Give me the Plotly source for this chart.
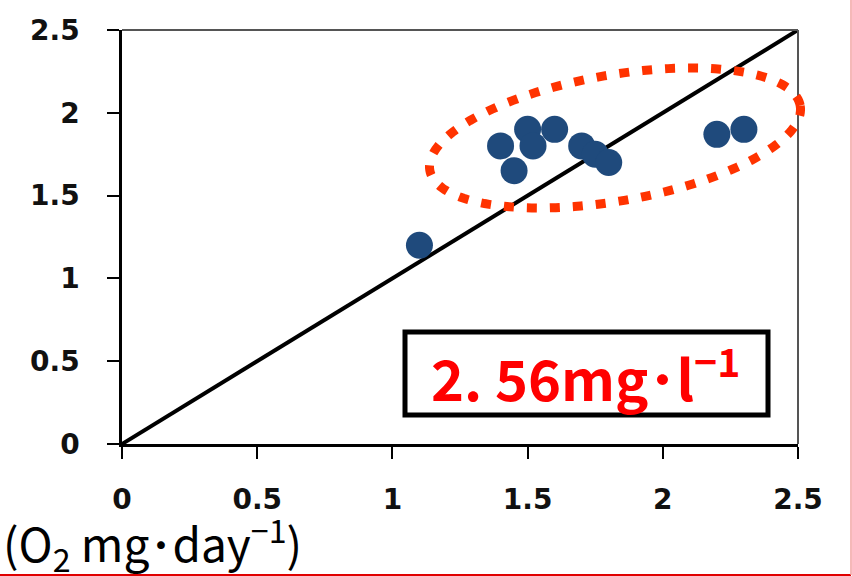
import numpy as np
import plotly.graph_objects as go

# Measured vs. estimated oxygen production (O2 mg/day)
x_vals = [1.10, 1.40, 1.45, 1.50, 1.52, 1.60, 1.70, 1.75, 1.80, 2.20, 2.30]
y_vals = [1.20, 1.80, 1.65, 1.90, 1.80, 1.90, 1.80, 1.75, 1.70, 1.87, 1.90]

# 1:1 reference line
ref_x = [0, 2.5]
ref_y = [0, 2.5]

tick_vals = [0, 0.5, 1, 1.5, 2, 2.5]
tick_text = ["0", "0.5", "1", "1.5", "2", "2.5"]

W, H = 852, 576
L, R, T, B = 122, 54, 30, 132
PW, PH = W - L - R, H - T - B


def to_paper(px, py):
    """pixel position -> paper coordinates"""
    return (px - L) / PW, (H - B - py) / PH


fig = go.Figure()

fig.add_trace(go.Scatter(
    x=ref_x, y=ref_y, mode="lines",
    line=dict(color="black", width=4),
    hoverinfo="skip", showlegend=False,
))

fig.add_trace(go.Scatter(
    x=x_vals, y=y_vals, mode="markers",
    marker=dict(size=27, color="#1F4A7C", line=dict(width=0)),
    showlegend=False,
))

axis_common = dict(
    range=[0, 2.5],
    tickvals=tick_vals,
    ticktext=tick_text,
    showgrid=False,
    zeroline=False,
    showline=True,
    linecolor="black",
    linewidth=2.5,
    ticks="outside",
    ticklen=12,
    tickwidth=2,
    tickcolor="black",
    automargin=False,
    tickfont=dict(family="DejaVu Sans", size=28, color="#111111", weight="bold"),
)

fig.update_xaxes(**axis_common, ticklabelstandoff=17)
fig.update_yaxes(**axis_common, ticklabelstandoff=22)

shapes = []

# gray top / right frame of the plot area
shapes.append(dict(type="line", xref="paper", yref="paper", x0=0, x1=1, y0=1, y1=1,
                   line=dict(color="#555555", width=2)))
shapes.append(dict(type="line", xref="paper", yref="paper", x0=1, x1=1, y0=0, y1=1,
                   line=dict(color="#555555", width=2)))

# dotted tilted ellipse around the cluster
cx, cy, a, b, th = 615, 138, 188, 63, np.deg2rad(-9.9)
t = np.linspace(0, 2 * np.pi, 181)
ex = cx + a * np.cos(th) * np.cos(t) - b * np.sin(th) * np.sin(t)
ey = cy + a * np.sin(th) * np.cos(t) + b * np.cos(th) * np.sin(t)
pts = [to_paper(px, py) for px, py in zip(ex, ey)]
path = "M " + " L ".join(f"{px:.5f},{py:.5f}" for px, py in pts) + " Z"
shapes.append(dict(type="path", xref="paper", yref="paper", path=path,
                   line=dict(color="#FF3300", width=9, dash="10px,13px")))

# boxed concentration label
bx0, by0 = to_paper(405, 415)
bx1, by1 = to_paper(768, 332)
shapes.append(dict(type="rect", xref="paper", yref="paper",
                   x0=bx0, x1=bx1, y0=by0, y1=by1,
                   line=dict(color="black", width=5), fillcolor="white"))

# thin red edge lines along the bottom and right side
lx0, ly0 = to_paper(0, 575)
lx1, ly1 = to_paper(851, 0)
shapes.append(dict(type="line", xref="paper", yref="paper", x0=lx0, x1=lx1, y0=ly0, y1=ly0,
                   line=dict(color="#E00000", width=2)))
shapes.append(dict(type="line", xref="paper", yref="paper", x0=lx1, x1=lx1, y0=ly0, y1=ly1,
                   line=dict(color="#F2A0A0", width=1.5)))

annotations = []
tx, ty = to_paper(585, 374)
annotations.append(dict(
    xref="paper", yref="paper", x=tx, y=ty, xanchor="center", yanchor="middle",
    text="2. 56mg\uff65l<sup>\u22121</sup>", showarrow=False,
    font=dict(family="Noto Sans CJK JP", size=56, color="#FF0000", weight="bold"),
))

ax, ay = to_paper(1, 543)
annotations.append(dict(
    xref="paper", yref="paper", x=ax, y=ay, xanchor="left", yanchor="middle",
    text="(O<sub>2</sub> mg\uff65day<sup>\u22121</sup>)", showarrow=False,
    font=dict(family="Noto Sans CJK JP", size=46, color="black"),
))

fig.update_layout(
    width=W, height=H,
    margin=dict(l=L, r=R, t=T, b=B),
    paper_bgcolor="white",
    plot_bgcolor="white",
    shapes=shapes,
    annotations=annotations,
)

fig.write_html("out.html")
